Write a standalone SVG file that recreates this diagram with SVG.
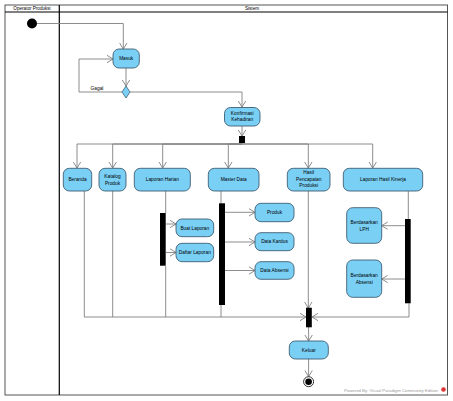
<svg xmlns="http://www.w3.org/2000/svg" width="453" height="401" viewBox="0 0 453 401">
<style>
.lane{fill:none;stroke:#000;stroke-width:1}
.lt{font-family:"Liberation Sans",Arial,sans-serif;font-size:4.6px;fill:#000;text-anchor:middle}
.node rect{fill:#7ACFF5;stroke:#3E5F74;stroke-width:0.9}
.node text{font-family:"Liberation Sans",Arial,sans-serif;font-size:4.8px;fill:#000;text-anchor:middle}
.bar{fill:#000}
.c path{fill:none;stroke:#808080;stroke-width:0.9}
.c path.a{marker-end:url(#arr)}
</style>
<defs>
<marker id="arr" markerUnits="userSpaceOnUse" markerWidth="7" markerHeight="9" viewBox="0 0 7 9" refX="6.5" refY="4.5" orient="auto">
<path d="M0.5,0.8 L6.5,4.5 L0.5,8.2" fill="none" stroke="#808080" stroke-width="0.9"/>
</marker>
</defs>
<rect width="453" height="401" fill="#fff"/>
<g id="swimlanes">
<rect x="5" y="5" width="442.5" height="390" fill="none" stroke="#555" stroke-width="1"/>
<line x1="5" y1="12" x2="447.5" y2="12" stroke="#000" stroke-width="1"/>
<line x1="59.3" y1="5" x2="59.3" y2="395" stroke="#000" stroke-width="1.2"/>
<text class="lt" x="32" y="10.2">Operator Produksi</text>
<text class="lt" x="252" y="10.2">Sistem</text>
</g>
<g class="c" id="connectors">
<path class="a" d="M37,23.5 H123.3 V49"/>
<path class="a" d="M126,68 V86"/>
<path class="a" d="M122,92 H79 V59 H113"/>
<path class="a" d="M130,92 H242 V107"/>
<path class="a" d="M242,126 V136"/>
<path class="a" d="M242,143 V144 H77 V168"/>
<path class="a" d="M242,144 H112.7 V168"/>
<path class="a" d="M242,144 H162.7 V168"/>
<path class="a" d="M242,144 H228.3 V168"/>
<path class="a" d="M242,144 H308.3 V168"/>
<path class="a" d="M242,144 H372.7 V168"/>
<path class="a" d="M84.3,191 V317 H306"/>
<path d="M112.7,191 V317"/>
<path d="M165.7,191 V213"/>
<path class="a" d="M166,224 H176"/>
<path class="a" d="M166,252.5 H176"/>
<path d="M165.7,266 V317"/>
<path d="M221,191 V203.5"/>
<path class="a" d="M225,212.3 H255"/>
<path class="a" d="M225,242 H255"/>
<path class="a" d="M225,270.5 H255"/>
<path d="M221,305 V317"/>
<path class="a" d="M308.3,191 V308"/>
<path d="M408.3,191 V219"/>
<path class="a" d="M405,225.7 H381.7"/>
<path class="a" d="M405,279 H381.7"/>
<path class="a" d="M409,303.3 V317 H312"/>
<path class="a" d="M308.6,327 V341"/>
<path class="a" d="M308.6,359 V376.5"/>
<text x="97" y="89.5" font-family="Liberation Sans,Arial,sans-serif" font-size="4.8" fill="#000" text-anchor="middle">Gagal</text>
</g>
<g id="initial"><circle cx="32" cy="23.5" r="5" fill="#000"/></g>
<g id="masuk" class="node"><rect x="113" y="49" width="26.3" height="19" rx="6"/><text x="126.2" y="60.3">Masuk</text></g>
<g id="decision"><polygon points="126,86 130,92 126,98 122,92" fill="#7ACFF5" stroke="#3E5F74" stroke-width="0.8"/></g>
<g id="konfirmasi" class="node"><rect x="224.5" y="107.5" width="35.5" height="18.5" rx="6"/><text x="242.2" y="115">Konfirmasi</text><text x="242.2" y="121.3">Kehadiran</text></g>
<g id="fork1"><rect class="bar" x="239" y="136" width="6" height="7"/></g>
<g id="beranda" class="node"><rect x="63.3" y="168.3" width="28.4" height="22.7" rx="6"/><text x="77.5" y="181.3">Beranda</text></g>
<g id="katalog" class="node"><rect x="99" y="168.3" width="27" height="22.7" rx="6"/><text x="112.5" y="178">Katalog</text><text x="112.5" y="184.5">Produk</text></g>
<g id="laporan-harian" class="node"><rect x="134.3" y="168.3" width="56" height="22.7" rx="6"/><text x="162.3" y="181.3">Laporan Harian</text></g>
<g id="master-data" class="node"><rect x="208.3" y="168.3" width="50.7" height="22.7" rx="6"/><text x="233.7" y="181.3">Master Data</text></g>
<g id="hasil" class="node"><rect x="287.3" y="168.3" width="42.7" height="22.7" rx="6"/><text x="308.7" y="174.3">Hasil</text><text x="308.7" y="180.8">Pencapaian</text><text x="308.7" y="187.3">Produksi</text></g>
<g id="lhk" class="node"><rect x="343.3" y="168.3" width="79.4" height="22.7" rx="6"/><text x="383" y="181.3">Laporan Hasil Kinerja</text></g>
<g id="bar-lh"><rect class="bar" x="160" y="213" width="5.7" height="52.7"/></g>
<g id="buat-laporan" class="node"><rect x="176" y="219" width="37.7" height="17.7" rx="6"/><text x="194.8" y="229.5">Buat Laporan</text></g>
<g id="daftar-laporan" class="node"><rect x="176" y="243.3" width="37.7" height="18.4" rx="6"/><text x="194.8" y="254.2">Daftar Laporan</text></g>
<g id="bar-md"><rect class="bar" x="219" y="203.3" width="6" height="101.7"/></g>
<g id="produk" class="node"><rect x="255" y="203.3" width="39" height="18.4" rx="6"/><text x="274.5" y="214.2">Produk</text></g>
<g id="data-kardus" class="node"><rect x="255" y="232.7" width="39" height="18" rx="6"/><text x="274.5" y="243.4">Data Kardus</text></g>
<g id="data-absensi" class="node"><rect x="255" y="261.7" width="39" height="17.6" rx="6"/><text x="274.5" y="272.2">Data Absensi</text></g>
<g id="bar-lhk"><rect class="bar" x="405" y="219" width="5.7" height="84.3"/></g>
<g id="berdasarkan-lph" class="node"><rect x="346.7" y="207.7" width="35" height="35.6" rx="6"/><text x="364.2" y="224">Berdasarkan</text><text x="364.2" y="230.5">LPH</text></g>
<g id="berdasarkan-absensi" class="node"><rect x="346.7" y="260" width="35" height="37.3" rx="6"/><text x="364.2" y="277.3">Berdasarkan</text><text x="364.2" y="283.8">Absensi</text></g>
<g id="join"><rect class="bar" x="306" y="307.7" width="5.8" height="19.6"/></g>
<g id="keluar" class="node"><rect x="289.3" y="341" width="39" height="18" rx="6"/><text x="308.8" y="351.7">Keluar</text></g>
<g id="final"><circle cx="308.6" cy="381.7" r="5" fill="#fff" stroke="#000" stroke-width="0.8"/><circle cx="308.6" cy="381.7" r="3.3" fill="#000"/></g>
<g id="watermark">
<text x="438" y="391.5" font-family="Liberation Sans,Arial,sans-serif" font-size="4.3" fill="#999" text-anchor="end">Powered By: Visual Paradigm Community Edition</text>
<circle cx="443.5" cy="389.5" r="2.3" fill="#d33"/>
</g>
</svg>
